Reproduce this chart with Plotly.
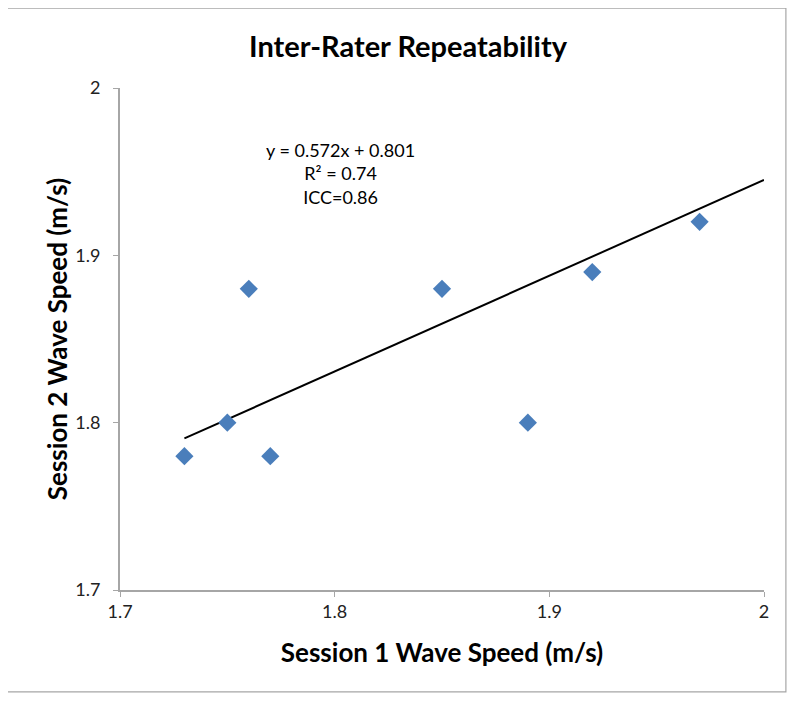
import plotly.graph_objects as go

session1 = [1.73, 1.75, 1.76, 1.77, 1.85, 1.89, 1.92, 1.97]
session2 = [1.78, 1.80, 1.88, 1.78, 1.88, 1.80, 1.89, 1.92]
slope = 0.572
intercept = 0.801
axis_min, axis_max = 1.7, 2.0
tick_vals = [1.7, 1.8, 1.9, 2.0]
tick_text = ["1.7", "1.8", "1.9", "2"]

trend_x = [min(session1), axis_max]
trend_y = [slope * v + intercept for v in trend_x]

FONT = "Lato, 'Open Sans', sans-serif"

fig = go.Figure()
fig.add_trace(go.Scatter(x=trend_x, y=trend_y, mode="lines",
                         line=dict(color="black", width=2), hoverinfo="skip"))
fig.add_trace(go.Scatter(x=session1, y=session2, mode="markers",
                         marker=dict(symbol="diamond", size=14, color="#4A7EBB",
                                     line=dict(width=0))))

axis_common = dict(range=[axis_min, axis_max], tickvals=tick_vals,
                   showgrid=False, zeroline=False, showline=True, linecolor="#A6A6A6",
                   linewidth=1.5, ticks="outside", ticklen=5, tickcolor="#A6A6A6",
                   tickfont=dict(family=FONT, size=18, color="#222"))

fig.update_xaxes(**axis_common, ticktext=tick_text,
                 title=dict(text="<b>Session 1 Wave Speed (m/s)</b>",
                            font=dict(family=FONT, size=26, color="black"), standoff=22))
fig.update_yaxes(**axis_common, ticktext=[t + "\u00a0\u00a0" for t in tick_text],
                 title=dict(text="<b>Session 2 Wave Speed (m/s)</b>",
                            font=dict(family=FONT, size=26, color="black"), standoff=0))

fig.add_annotation(xref="paper", yref="paper", x=0.342, y=0.829, showarrow=False,
                   align="center", yanchor="middle",
                   text="y = 0.572x + 0.801<br>R² = 0.74<br>ICC=0.86",
                   font=dict(family=FONT, size=18, color="black"))

fig.add_shape(type="rect", xref="paper", yref="paper",
              x0=-0.175, x1=1.034, y0=-0.203, y1=1.159,
              line=dict(color="#A6A6A6", width=1.2))

fig.update_layout(
    width=800, height=704,
    margin=dict(l=112, r=44, t=80, b=122),
    paper_bgcolor="white", plot_bgcolor="white",
    showlegend=False,
    title=dict(text="<b>Inter-Rater Repeatability</b>", x=0.5, xanchor="center",
               y=0.945, yanchor="middle",
               font=dict(family=FONT, size=29, color="black")),
)

fig.write_html("out.html")
